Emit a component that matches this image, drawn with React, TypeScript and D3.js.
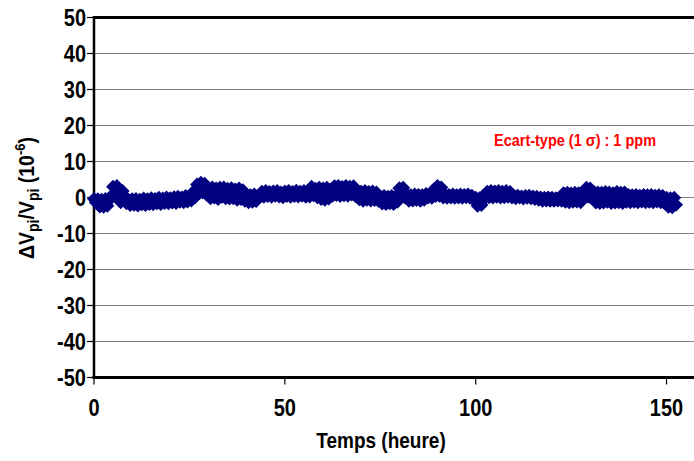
import React from "react";
import * as d3 from "d3";

// Sampling interval of the series (hours)
const sampleIntervalHours = 0.5;

// Relative deviation ΔVpi/Vpi (10^-6), one value every 0.5 h from t = 0 h
const deltaV: number[] = [
  -0.4, -1.4, -0.5, -2.5, -0.6, -2.6, -0.4, -2.3, -0.7, 0.4,
  3.0, 1.2, 3.2, 0.6, -1.3, 1.8, 0.2, -1.6, -0.6, -2.1,
  -0.5, -2.0, -0.4, -2.2, -0.6, -1.9, -0.3, -2.1, -0.5, -1.8,
  -0.2, -1.9, -0.4, -1.6, -0.1, -1.8, -0.3, -1.5, 0.0, -1.6,
  -0.2, -1.4, 0.1, -1.5, 0.2, -1.2, 0.0, -1.3, 0.4, -1.1,
  0.3, -0.8, 1.6, 0.1, 3.6, 1.2, 4.1, 1.4, 3.8, 0.8,
  2.6, -0.2, 2.8, 0.0, 2.5, -0.4, 2.7, 0.2, 2.8, -0.2,
  2.4, -0.3, 2.6, -0.2, 2.2, -0.6, 2.5, -0.4, 2.0, -0.9,
  0.8, -1.3, 0.6, -1.2, 0.8, -1.0, 0.5, 0.3, 1.6, 0.2,
  1.8, 0.4, 1.5, 0.2, 1.7, 0.5, 1.8, 0.3, 1.4, 0.1,
  1.7, 0.4, 1.8, 0.2, 1.5, 0.4, 1.9, 0.3, 1.6, 0.5,
  1.8, 0.2, 1.6, 0.3, 3.0, 0.6, 2.4, 0.1, 2.7, -0.4,
  2.5, -0.6, 2.7, -0.3, 2.2, 0.5, 3.1, 0.7, 3.2, 0.4,
  2.9, 0.6, 3.2, 0.5, 3.0, 0.8, 3.1, 0.4, 1.8, -0.5,
  1.6, -0.9, 1.8, -0.6, 1.5, -0.8, 1.7, -0.7, 1.4, -0.9,
  0.3, -1.7, 0.4, -1.8, 0.2, -1.6, 0.4, -1.8, 0.3, -1.2,
  2.6, 0.2, 2.7, 0.0, 0.8, -0.9, 0.6, -0.8, 0.8, -0.7,
  0.7, -0.9, 0.6, -0.6, 1.0, 0.0, 0.9, -0.1, 2.2, 0.4,
  3.2, 0.5, 2.8, 0.0, 0.8, -0.1, 0.7, 0.0, 0.8, -0.1,
  0.6, 0.0, 0.8, -0.1, 0.7, 0.1, 0.8, -0.1, 0.5, -0.6,
  -0.1, -2.3, -0.2, -2.1, 0.4, -0.2, 1.6, 0.1, 1.8, 0.0,
  1.7, 0.2, 1.8, 0.0, 1.6, 0.1, 1.8, 0.2, 1.5, 0.0,
  0.4, -0.2, 0.5, 0.0, 0.3, -0.3, 0.4, -0.1, 0.5, -0.2,
  0.3, -0.4, 0.2, -0.6, 0.0, -0.9, -0.1, -0.8, 0.0, -0.9,
  -0.1, -0.9, -0.2, -0.8, -0.1, -0.9, 1.2, -1.2, 1.3, -1.3,
  1.1, -1.2, 1.3, -1.1, 1.2, -1.3, 1.0, 0.4, 2.7, 0.2,
  2.5, -0.3, 1.5, -1.4, 1.4, -1.5, 1.3, -1.4, 1.5, -1.2,
  1.4, -1.5, 1.2, -1.4, 1.5, -1.3, 1.3, -1.5, 1.4, -1.2,
  0.7, -1.3, 0.6, -1.2, 0.7, -1.3, 0.5, -1.1, 0.7, -1.3,
  0.6, -1.2, 0.7, -1.3, 0.5, -1.1, 0.6, -1.3, 0.4, -1.6,
  -0.1, -2.6, -0.2, -2.7, -0.1, -2.0,
];

const xTicks = [0, 50, 100, 150];
const yTicks = [-50, -40, -30, -20, -10, 0, 10, 20, 30, 40, 50];
const xTitle = "Temps (heure)";
const annotation = "Ecart-type (1 σ) : 1 ppm";

const W = 694;
const H = 461;
const FONT = "'Liberation Sans', Arial, sans-serif";
const SY = 1.15; // vertical stretch of the lettering

export default function App() {
  const x = d3.scaleLinear().domain([0, 160]).range([94, 704.7]);
  const y = d3.scaleLinear().domain([-50, 50]).range([377.5, 17.5]);
  const r = 7;
  const diamond = `M0,${-r}L${r},0L0,${r}L${-r},0Z`;

  return (
    <svg
      width={W}
      height={H}
      style={{ position: "absolute", left: 0, top: 0, background: "#fff" }}
      fontFamily={FONT}
    >
      {/* gridlines */}
      {yTicks
        .filter((t) => t !== -50 && t !== 50)
        .map((t) => (
          <line key={"g" + t} x1={x(0)} x2={W} y1={y(t)} y2={y(t)} stroke="#808080" strokeWidth={1.2} />
        ))}
      {/* frame */}
      <line x1={x(0)} x2={W} y1={y(50)} y2={y(50)} stroke="#000" strokeWidth={3} />
      <line x1={x(0) - 1.5} x2={W} y1={y(-50)} y2={y(-50)} stroke="#000" strokeWidth={3} />
      <line x1={x(0)} x2={x(0)} y1={y(50) - 1.5} y2={y(-50)} stroke="#000" strokeWidth={2.5} />
      {/* y ticks */}
      {yTicks.map((t) => (
        <g key={"yt" + t}>
          <line x1={x(0) - 7} x2={x(0)} y1={y(t)} y2={y(t)} stroke="#000" strokeWidth={1.2} />
          <text
            transform={`translate(86,${y(t)}) scale(1,${SY})`}
            dy="0.36em"
            textAnchor="end"
            fontSize={20}
            fontWeight="bold"
          >
            {t}
          </text>
        </g>
      ))}
      {/* x ticks */}
      {xTicks.map((t) => (
        <g key={"xt" + t}>
          <line x1={x(t)} x2={x(t)} y1={y(-50)} y2={y(-50) + 7} stroke="#000" strokeWidth={1.2} />
          <text
            transform={`translate(${x(t)},416) scale(1,${SY})`}
            textAnchor="middle"
            fontSize={20}
            fontWeight="bold"
          >
            {t}
          </text>
        </g>
      ))}
      {/* x title */}
      <text
        transform={`translate(381,448) scale(1,${SY})`}
        textAnchor="middle"
        fontSize={19}
        fontWeight="bold"
      >
        {xTitle}
      </text>
      {/* y title */}
      <text
        transform={`translate(34,198) rotate(-90) scale(1,${SY})`}
        textAnchor="middle"
        fontSize={19.5}
        fontWeight="bold"
      >
        <tspan>ΔV</tspan>
        <tspan fontSize={14} dy={4}>pi</tspan>
        <tspan dy={-4}>/V</tspan>
        <tspan fontSize={14} dy={4}>pi</tspan>
        <tspan dy={-4}> (10</tspan>
        <tspan fontSize={13} dy={-8}>-6</tspan>
        <tspan dy={8}>)</tspan>
      </text>
      {/* annotation */}
      <text
        transform={`translate(575,146) scale(1,1.2)`}
        textAnchor="middle"
        fontSize={14.5}
        fontWeight="bold"
        fill="#ff0000"
      >
        {annotation}
      </text>
      {/* data */}
      <g fill="#000080">
        {deltaV.map((v, i) => (
          <path key={i} d={diamond} transform={`translate(${x(i * sampleIntervalHours)},${y(v)})`} />
        ))}
      </g>
    </svg>
  );
}
